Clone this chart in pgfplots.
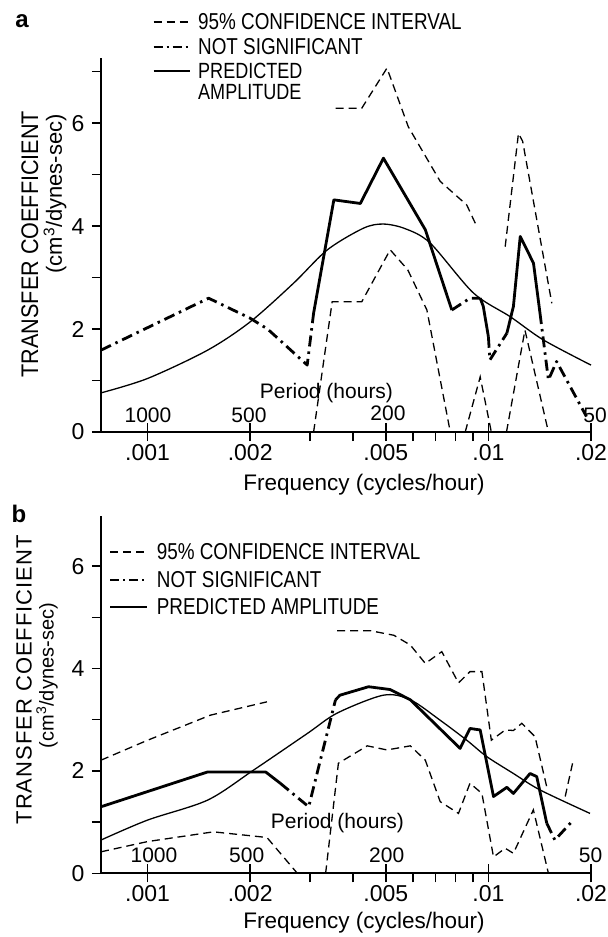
\documentclass[border=0pt]{standalone}
\usepackage{pgfplots}
\pgfplotsset{compat=1.18}
\usepackage{fontspec}
\setmainfont{Liberation Sans}
\newfontfamily\condfont{Liberation Sans}[FakeStretch=0.82]
\newfontfamily\ylabA{Liberation Sans}[FakeStretch=0.9]
\newfontfamily\ylabB{Liberation Sans}[LetterSpace=4.5]
\newcommand\fs[1]{\fontsize{#1bp}{#1bp}\selectfont}

\tikzset{
  thickline/.style={black, line width=2.8bp, line join=round},
  dashdotline/.style={black, line width=2.8bp, line join=round, dash pattern=on 11bp off 5bp on 2.5bp off 5bp},
  thinline/.style={black, line width=1.3bp},
  ciline/.style={black, line width=1.3bp, dash pattern=on 8bp off 5bp},
  lbl/.style={inner sep=0pt, font=\fs{21}},
  leg/.style={anchor=west, inner sep=0pt, font=\condfont\fs{23}},
}

\pgfplotsset{
  every axis/.append style={
    scale only axis, width=490bp,
    xmode=log, xmin=0.00073, xmax=0.02, ymin=0,
    axis x line=bottom, axis y line=left,
    axis line style={-, line width=2bp},
    xtick={0.001,0.002,0.005,0.01,0.02},
    xticklabels={.001,.002,.005,.01,.02},
    minor xtick={0.003,0.004,0.006,0.007,0.008,0.009},
    extra x ticks={0.001,0.002,0.005,0.01,0.02},
    extra x tick labels={},
    extra x tick style={tick align=inside},
    tick align=outside,
    major tick length=9bp, minor tick length=9bp,
    ytick={0,1,2,3,4,5,6,7},
    yticklabels={0,,2,,4,,6,},
    tick style={black, line width=1.5bp},
    every tick label/.append style={font=\fs{23}},
    yticklabel style={xshift=-4bp},
    /pgf/number format/assume math mode=true,
    clip=false,
  }
}

\begin{document}
\begin{tikzpicture}
\useasboundingbox (0,0) rectangle (608bp,-937bp);

% ---------------- panel a ----------------
\begin{axis}[at={(101bp,-432bp)}, anchor=south west, height=373.7bp, ymax=7.26]
% predicted amplitude
\addplot[thinline, smooth] coordinates {
(0.00073,0.76) (0.001,1.04) (0.0015,1.59) (0.002,2.14) (0.00268,2.89)
(0.00337,3.54) (0.0043,3.96) (0.00492,4.04) (0.0057,3.95) (0.00675,3.67)
(0.00904,2.70) (0.01159,2.24) (0.01449,1.79) (0.02,1.30)};
% observed, not significant / significant
\addplot[dashdotline] coordinates {(0.00073,1.59) (0.00151,2.60) (0.002,2.21) (0.00225,2.0) (0.00294,1.30) (0.00307,2.31)};
\addplot[thickline] coordinates {(0.00307,2.31) (0.00352,4.51) (0.00421,4.44) (0.00492,5.32) (0.00653,3.93) (0.00781,2.37)};
\addplot[dashdotline] coordinates {(0.00781,2.37) (0.00883,2.60) (0.00946,2.60)};
\addplot[thickline] coordinates {(0.00946,2.60) (0.00966,2.44) (0.0100,1.85)};
\addplot[dashdotline] coordinates {(0.0100,1.85) (0.0101,1.40) (0.01133,1.92)};
\addplot[thickline] coordinates {(0.01133,1.92) (0.01184,2.44) (0.0124,3.80) (0.01356,3.28) (0.01417,2.31)};
\addplot[dashdotline] coordinates {(0.01417,2.31) (0.0150,1.01) (0.01585,1.37) (0.0194,0.30)};
% confidence interval
\addplot[ciline] coordinates {(0.00356,6.29) (0.00425,6.29) (0.00504,7.07) (0.00582,5.93) (0.00722,4.87) (0.00864,4.41) (0.00925,3.99)};
\addplot[ciline] coordinates {(0.0112,3.60) (0.01225,5.80) (0.0126,5.65) (0.01535,2.50)};
\addplot[ciline] coordinates {(0.00307,0) (0.00348,2.53) (0.00425,2.53) (0.00515,3.54) (0.0058,3.15) (0.0066,2.37) (0.00773,0)};
\addplot[ciline] coordinates {(0.00855,0) (0.00946,1.07) (0.0102,0)};
\addplot[ciline] coordinates {(0.0113,0) (0.0128,1.98) (0.0150,0)};
\end{axis}

\node[font=\fs{24}\bfseries, inner sep=0pt] at (22bp,-21bp) {a};
\node[rotate=90, anchor=east, inner sep=0pt, font=\ylabA\fs{24}] at (29.9bp,-110.7bp) {TRANSFER COEFFICIENT};
\node[rotate=90, anchor=east, inner sep=0pt, font=\fs{22}] at (55bp,-114bp) {(cm\textsuperscript{3}/dynes-sec)};
\node[lbl, font=\fs{22.5}] at (364bp,-485bp) {Frequency (cycles/hour)};
\node[lbl] at (326.5bp,-393bp) {Period (hours)};
\node[lbl] at (148bp,-415bp) {1000};
\node[lbl] at (249bp,-415bp) {500};
\node[lbl] at (388bp,-413bp) {200};
\node[lbl] at (595bp,-415bp) {50};
% legend a
\draw[ciline] (153.6bp,-22bp) -- (190.3bp,-22bp);
\draw[black, line width=1.8bp, dash pattern=on 9bp off 4bp on 2bp off 4bp] (153.6bp,-47bp) -- (190.3bp,-47bp);
\draw[black, line width=1.5bp] (153.6bp,-71bp) -- (190.3bp,-71bp);
\node[leg] at (198bp,-22bp) {95\% CONFIDENCE INTERVAL};
\node[leg] at (198bp,-47bp) {NOT SIGNIFICANT};
\node[leg, font=\condfont\fs{22}] at (198bp,-71bp) {PREDICTED};
\node[leg, font=\condfont\fs{22}] at (198bp,-92bp) {AMPLITUDE};

% ---------------- panel b ----------------
\begin{axis}[at={(101bp,-873.3bp)}, anchor=south west, height=357.3bp, ymax=6.98]
\addplot[thinline, smooth] coordinates {
(0.00073,0.65) (0.001,1.04) (0.0015,1.43) (0.00205,2.02) (0.00294,2.73)
(0.0036,3.13) (0.00492,3.48) (0.0059,3.39) (0.00722,2.99) (0.00864,2.60)
(0.00989,2.28) (0.01184,1.95) (0.01416,1.63) (0.01987,1.17)};
\addplot[thickline] coordinates {(0.00073,1.30) (0.0015,1.98) (0.00222,1.98) (0.00245,1.76)};
\addplot[dashdotline] coordinates {(0.00245,1.76) (0.00297,1.30) (0.00356,3.39)};
\addplot[thickline] coordinates {(0.00356,3.39) (0.00367,3.48) (0.00445,3.645) (0.00515,3.59) (0.0059,3.39) (0.00826,2.44) (0.00883,2.83) (0.00946,2.80) (0.01035,1.50) (0.01133,1.68) (0.01184,1.56) (0.01325,1.95) (0.01386,1.89) (0.01483,0.98)};
\addplot[dashdotline] coordinates {(0.01483,0.98) (0.01567,0.65) (0.01774,1.04)};
\addplot[ciline] coordinates {(0.00073,2.21) (0.001,2.60) (0.00153,3.09) (0.00224,3.35)};
\addplot[ciline] coordinates {(0.0036,4.74) (0.0045,4.74) (0.00528,4.65) (0.0059,4.46) (0.00653,4.10) (0.0073,4.33) (0.00817,3.72) (0.00883,3.94) (0.00957,3.94) (0.0102,2.60) (0.0112,2.80) (0.01184,2.79) (0.01253,2.93) (0.0137,2.67) (0.01483,1.69)};
\addplot[ciline] coordinates {(0.0168,1.50) (0.01774,2.21)};
\addplot[ciline] coordinates {(0.00073,0.42) (0.001,0.62) (0.00156,0.81) (0.00224,0.70) (0.00275,0.0)};
\addplot[ciline] coordinates {(0.00333,0) (0.00363,2.15) (0.00441,2.49) (0.00504,2.41) (0.0059,2.49) (0.00653,2.21) (0.00722,1.40) (0.00817,1.17) (0.00883,1.76) (0.00957,1.56) (0.01035,0.32) (0.0112,0.49) (0.01184,0.39) (0.01355,1.24) (0.0150,0)};
\end{axis}

\node[font=\fs{24}\bfseries, inner sep=0pt] at (19bp,-514bp) {b};
\node[rotate=90, anchor=east, inner sep=0pt, font=\ylabB\fs{22}] at (24bp,-535bp) {TRANSFER COEFFICIENT};
\node[rotate=90, anchor=east, inner sep=0pt, font=\fs{20}] at (47bp,-603bp) {(cm\textsuperscript{3}/dynes-sec)};
\node[lbl, font=\fs{22.5}] at (364bp,-923bp) {Frequency (cycles/hour)};
\node[lbl] at (337.5bp,-823bp) {Period (hours)};
\node[lbl] at (154bp,-855bp) {1000};
\node[lbl] at (246.7bp,-855bp) {500};
\node[lbl] at (386.7bp,-855bp) {200};
\node[lbl] at (590.5bp,-855bp) {50};
% legend b
\draw[ciline] (110bp,-552bp) -- (146.7bp,-552bp);
\draw[black, line width=1.8bp, dash pattern=on 9bp off 4bp on 2bp off 4bp] (110bp,-580bp) -- (146.7bp,-580bp);
\draw[black, line width=1.5bp] (110bp,-607bp) -- (146.7bp,-607bp);
\node[leg] at (156.7bp,-552bp) {95\% CONFIDENCE INTERVAL};
\node[leg] at (156.7bp,-580bp) {NOT SIGNIFICANT};
\node[leg] at (156.7bp,-607bp) {PREDICTED AMPLITUDE};
\end{tikzpicture}
\end{document}
